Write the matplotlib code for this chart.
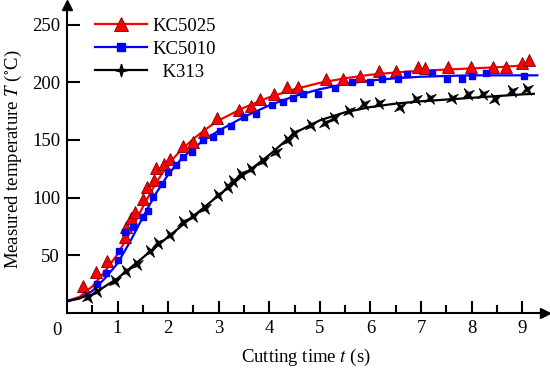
import matplotlib
matplotlib.use("Agg")
import matplotlib.pyplot as plt
from matplotlib.lines import Line2D
import numpy as np

plt.rcParams['font.family'] = ['Liberation Serif', 'DejaVu Serif']
plt.rcParams['mathtext.fontset'] = 'stix'

# measured points (scatter)
t_5025 = [0.32, 0.57, 0.79, 1.15, 1.17, 1.26, 1.34, 1.50, 1.58, 1.72, 1.76, 1.92, 2.04, 2.29,
          2.49, 2.71, 2.96, 3.40, 3.64, 3.81, 4.09, 4.35, 4.57, 5.12, 5.45, 5.79, 6.17, 6.50,
          6.94, 7.08, 7.53, 7.98, 8.42, 8.68, 8.99, 9.13]
T_5025 = [23.4, 35.5, 45.0, 65.9, 74.5, 82.3, 87.5, 98.8, 109.0, 115.0, 125.6, 129.0, 133.4, 144.7,
          148.0, 156.8, 169.0, 176.0, 179.4, 185.4, 190.0, 195.8, 195.8, 202.8, 202.8, 205.4, 209.7, 209.7,
          213.0, 212.3, 213.0, 213.0, 213.0, 213.0, 216.6, 219.0]

t_5010 = [0.59, 0.77, 1.01, 1.03, 1.15, 1.30, 1.50, 1.60, 1.70, 1.88, 2.00, 2.15, 2.29, 2.47,
          2.69, 2.89, 3.02, 3.24, 3.50, 3.74, 4.05, 4.27, 4.47, 4.66, 4.96, 5.30, 5.63, 5.99,
          6.23, 6.54, 6.72, 7.21, 7.51, 7.81, 8.00, 8.28, 9.03]
T_5010 = [25.1, 34.7, 45.9, 53.7, 70.2, 74.5, 83.2, 88.4, 100.5, 111.8, 122.2, 128.2, 135.2, 139.5,
          150.0, 152.5, 157.7, 162.0, 169.8, 172.4, 180.0, 183.0, 186.3, 189.8, 189.8, 195.0, 200.0, 200.0,
          202.8, 202.8, 207.0, 208.0, 202.8, 202.8, 205.4, 208.0, 205.4]

t_313 = [0.42, 0.59, 0.95, 1.17, 1.38, 1.64, 1.80, 2.04, 2.29, 2.49, 2.73, 2.98, 3.18, 3.28,
         3.44, 3.64, 3.87, 4.13, 4.37, 4.49, 4.82, 5.10, 5.28, 5.57, 5.87, 6.17, 6.58, 6.90,
         7.17, 7.61, 7.92, 8.22, 8.46, 8.79, 9.09]
T_313 = [13.9, 19.1, 27.7, 36.4, 42.5, 53.7, 60.7, 67.6, 78.9, 84.1, 91.0, 102.3, 109.2, 114.4,
         120.5, 124.8, 131.7, 139.5, 149.9, 156.0, 162.9, 164.6, 169.0, 175.0, 181.1, 182.0, 178.5, 185.4,
         186.3, 186.3, 189.8, 189.8, 185.4, 192.4, 194.1]

# fitted curves
ct_5025 = [0, 0.25, 0.5, 0.75, 1.0, 1.25, 1.5, 1.75, 2.0, 2.25, 2.5, 2.75, 3.0, 3.5, 4.0, 4.5,
           5.0, 5.5, 6.0, 6.5, 7.0, 7.5, 8.0, 8.5, 9.0, 9.2]
cT_5025 = [10.5, 14, 23, 36, 51, 70, 92, 112, 129, 141, 151, 159.5, 167, 178, 187, 194,
           199.5, 203.5, 206.5, 208.5, 210, 211, 212, 213, 214.5, 215.5]
ct_5010 = [0, 0.25, 0.5, 0.75, 1.0, 1.25, 1.5, 1.75, 2.0, 2.25, 2.5, 2.75, 3.0, 3.5, 4.0, 4.5,
           5.0, 5.5, 6.0, 6.5, 7.0, 7.5, 8.0, 8.5, 9.0, 9.3]
cT_5010 = [10.5, 12.5, 19, 30, 43, 62, 83, 103, 120, 133, 143, 151, 158, 170, 180, 188,
           194, 198.5, 201.5, 203.5, 204.8, 205.5, 206, 206, 206, 206]
ct_313 = [0, 0.5, 1.0, 1.5, 2.0, 2.5, 3.0, 3.5, 4.0, 4.5, 5.0, 5.5, 6.0, 6.5, 7.0, 7.5,
          8.0, 8.5, 9.0, 9.23]
cT_313 = [10, 16, 30, 48, 66, 84, 102, 120, 137, 156, 167, 174, 178.5, 181.5, 183.5, 185,
          186.5, 188, 189.5, 190]


def star4(angle):
    # four pointed star marker with deep notches
    verts = []
    for k in range(8):
        r = 1.0 if k % 2 == 0 else 0.3
        a = np.deg2rad(90 + angle + k * 45)
        verts.append((r * np.cos(a), r * np.sin(a)))
    verts.append(verts[0])
    return verts


FS = 13.5

fig = plt.figure(figsize=(5.5, 3.68), dpi=100)
ax = fig.add_axes([0.1218, 0.1495, 0.869, 0.837])

ax.plot(ct_5025, cT_5025, color='red', lw=1.6, zorder=2)
ax.plot(ct_5010, cT_5010, color='blue', lw=1.6, zorder=2)
ax.plot(ct_313, cT_313, color='black', lw=1.6, zorder=2)

ax.plot(t_5025, T_5025, ls='none', marker='^', ms=8, mfc='red', mec='#7a0000', mew=0.6, zorder=3)
ax.plot(t_5010, T_5010, ls='none', marker='s', ms=5, mfc='blue', mec='blue', zorder=3)
ax.plot(t_313, T_313, ls='none', marker=star4(35), ms=8.5, mfc='black', mec='black', mew=0.5, zorder=3)

ax.set_xlim(0, 9.45)
ax.set_ylim(0, 267)
ax.spines['right'].set_visible(False)
ax.spines['top'].set_visible(False)
ax.spines['left'].set_linewidth(1.5)
ax.spines['bottom'].set_linewidth(1.5)

# arrow heads on the axes
ax.plot(1, 0, '>k', ms=7, transform=ax.get_yaxis_transform(), clip_on=False)
ax.plot(0, 1, '^k', ms=7, transform=ax.get_xaxis_transform(), clip_on=False)

ax.set_xticks(range(1, 10))
ax.set_xticks([i + 0.5 for i in range(0, 9)], minor=True)
ax.set_yticks([50, 100, 150, 200, 250])
ax.tick_params(axis='both', which='major', direction='in', length=9, width=1.5,
               labelsize=FS, pad=5)
ax.tick_params(axis='x', which='minor', direction='in', length=6, width=1.5)
ax.text(-0.2, -8, '0', fontsize=FS, ha='center', va='top')

ax.set_xlabel(r'Cutting time $t$ (s)', fontsize=FS, labelpad=7)
ax.set_ylabel(r'Measured temperature $T$ ($^{\circ}$C)', fontsize=FS, labelpad=6)

handles = [
    Line2D([], [], color='red', lw=1.6, marker='^', ms=10, mfc='red', mec='#7a0000', mew=0.6),
    Line2D([], [], color='blue', lw=1.6, marker='s', ms=6, mfc='blue', mec='blue'),
    Line2D([], [], color='black', lw=1.6, marker=star4(0), ms=9, mfc='black', mec='black'),
]
ax.legend(handles, ['KC5025', 'KC5010', '  K313'], loc='upper left',
          bbox_to_anchor=(0.058, 0.958), frameon=False, fontsize=FS, borderpad=0,
          borderaxespad=0, handlelength=2.8, handletextpad=0.3, labelspacing=0.3,
          numpoints=1)

fig.savefig('out.png', dpi=100)
